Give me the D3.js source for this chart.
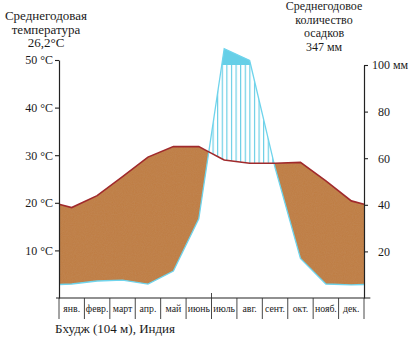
<!DOCTYPE html>
<html><head><meta charset="utf-8">
<script src="https://cdn.jsdelivr.net/npm/d3@7"></script>
<style>
html,body{margin:0;padding:0;background:#fff;}
svg{display:block;}
text{font-family:"Liberation Serif","Times New Roman",serif;fill:#1a1a1a;}
</style></head>
<body><svg id="chart" width="410" height="342"></svg>
<script>
const months = ["янв.","февр.","март","апр.","май","июнь","июль","авг.","сент.","окт.","нояб.","дек."];
const temperature = [19.0,21.5,25.5,29.6,31.8,31.8,29.0,28.3,28.3,28.5,24.6,20.4];
const precipitation = [6.0,7.3,7.7,6.0,11.6,34,107,102,56,17,6,5.6];
const tempTicks = [10,20,30,40,50];
const precipTicks = [20,40,60,80,100];
const leftTitle = ["Среднегодовая","температура","26,2°C"];
const rightTitle = ["Среднегодовое","количество","осадков","347 мм"];
const caption = "Бхудж (104 м), Индия";

const svg = d3.select("#chart");
const x = d3.scaleLinear().domain([0,12]).range([59,364]);
const yT = d3.scaleLinear().domain([0,50]).range([298,60]);
const yP = d3.scaleLinear().domain([0,100]).range([298,65]);
const y100 = yP(100);

// nodes: edges use mean of Dec & Jan
const tEdge = (temperature[0]+temperature[11])/2;
const pEdge = (precipitation[0]+precipitation[11])/2;
const ms = [0, ...months.map((_,i)=>i+0.5), 12];
const tv = [tEdge, ...temperature, tEdge];
const pv = [pEdge, ...precipitation, pEdge];
const base = ms.map((m,i)=>({m, yt:yT(tv[i]), yp:yP(pv[i])}));
const nodes = [];
for (let i=0;i<base.length;i++){
  nodes.push(base[i]);
  if (i===base.length-1) break;
  const a=base[i], b=base[i+1], extra=[];
  const d0=a.yp-a.yt, d1=b.yp-b.yt;
  if (d0*d1<0) extra.push(d0/(d0-d1));
  const e0=a.yp-y100, e1=b.yp-y100;
  if (e0*e1<0) extra.push(e0/(e0-e1));
  extra.sort((p,q)=>p-q).forEach(t=>{
    nodes.push({m:a.m+(b.m-a.m)*t, yt:a.yt+(b.yt-a.yt)*t, yp:a.yp+(b.yp-a.yp)*t});
  });
}

const defs = svg.append("defs");
defs.append("pattern").attr("id","hatch").attr("patternUnits","userSpaceOnUse")
  .attr("width",4.6).attr("height",10)
  .append("line").attr("x1",1.5).attr("x2",1.5).attr("y1",0).attr("y2",10)
  .attr("stroke","#5fcbe4").attr("stroke-width",1.1);
const flt = defs.append("filter").attr("id","grain");
flt.append("feTurbulence").attr("type","fractalNoise").attr("baseFrequency",0.9).attr("numOctaves",2).attr("result","n");
flt.append("feColorMatrix").attr("in","n").attr("type","matrix")
  .attr("values","0 0 0 0 0.55  0 0 0 0 0.33  0 0 0 0 0.15  0 0 0 0.3 0").attr("result","c");
flt.append("feComposite").attr("in","c").attr("in2","SourceGraphic").attr("operator","in").attr("result","g");
const fm = flt.append("feMerge");
fm.append("feMergeNode").attr("in","SourceGraphic");
fm.append("feMergeNode").attr("in","g");

// arid (brown)
svg.append("path").datum(nodes)
  .attr("d", d3.area().x(d=>x(d.m)).y1(d=>d.yt).y0(d=>Math.max(d.yt,d.yp)))
  .attr("fill","#bf7b43").attr("filter","url(#grain)");
// humid (hatched)
svg.append("path").datum(nodes)
  .attr("d", d3.area().x(d=>x(d.m)).y0(d=>d.yt).y1(d=>Math.min(d.yt,d.yp)))
  .attr("fill","url(#hatch)");
// above 100 mm (solid)
svg.append("path").datum(nodes)
  .attr("d", d3.area().x(d=>x(d.m)).y0(y100).y1(d=>Math.min(d.yp,y100)))
  .attr("fill","#66cfe7");
// precipitation line
svg.append("path").datum(nodes)
  .attr("d", d3.line().x(d=>x(d.m)).y(d=>d.yp))
  .attr("fill","none").attr("stroke","#6fd4ec").attr("stroke-width",1.3);
// temperature line
svg.append("path").datum(nodes)
  .attr("d", d3.line().x(d=>x(d.m)).y(d=>d.yt))
  .attr("fill","none").attr("stroke","#a02a2c").attr("stroke-width",1.6);

// left axis
const la = svg.append("g").attr("transform",`translate(${x(0)},0)`)
  .call(d3.axisLeft(yT).tickValues(tempTicks).tickSize(4).tickSizeOuter(0).tickPadding(2).tickFormat(d=>d+" °C"));
// right axis
const ra = svg.append("g").attr("transform",`translate(${x(12)},0)`)
  .call(d3.axisRight(yP).tickValues(precipTicks).tickSize(4).tickSizeOuter(0).tickPadding(2).tickFormat(d=>d));
[la,ra].forEach(g=>{
  g.selectAll(".domain").attr("stroke","#222").attr("stroke-width",1.2);
  g.selectAll(".tick line").attr("stroke","#222").attr("stroke-width",1.1);
  g.selectAll("text").attr("font-size",12).attr("font-family","Liberation Serif, serif").attr("fill","#1a1a1a");
});
ra.selectAll(".tick text").attr("text-anchor","end").attr("x",26);
ra.selectAll(".tick").filter(d=>d===100).append("text")
  .attr("x",29).attr("dy","0.32em").attr("font-size",12).attr("fill","#1a1a1a")
  .attr("font-family","Liberation Serif, serif").text("мм");

// bottom axis line and month boxes
const yb = yT(0);
svg.append("line").attr("x1",x(-0.12)).attr("x2",x(12.25)).attr("y1",yb).attr("y2",yb)
  .attr("stroke","#222").attr("stroke-width",1.2);
svg.append("g").selectAll("line").data(d3.range(13)).join("line")
  .attr("x1",d=>x(d)).attr("x2",d=>x(d))
  .attr("y1",d=>d===6?yb-5:yb).attr("y2",yb+21)
  .attr("stroke","#333").attr("stroke-width",0.9);
svg.append("g").selectAll("text").data(months).join("text")
  .attr("x",(d,i)=>x(i+0.5)).attr("y",yb+13.5)
  .attr("text-anchor","middle").attr("font-size",9.8).text(d=>d);

// titles
svg.append("g").selectAll("text").data(leftTitle).join("text")
  .attr("x",46).attr("y",(d,i)=>20+i*13.5).attr("text-anchor","middle")
  .attr("font-size",13).text(d=>d);
svg.append("g").selectAll("text").data(rightTitle).join("text")
  .attr("x",324).attr("y",(d,i)=>10+i*13.5).attr("text-anchor","middle")
  .attr("font-size",12).text(d=>d);
svg.append("text").attr("x",55).attr("y",333).attr("font-size",13).text(caption);
</script></body></html>
